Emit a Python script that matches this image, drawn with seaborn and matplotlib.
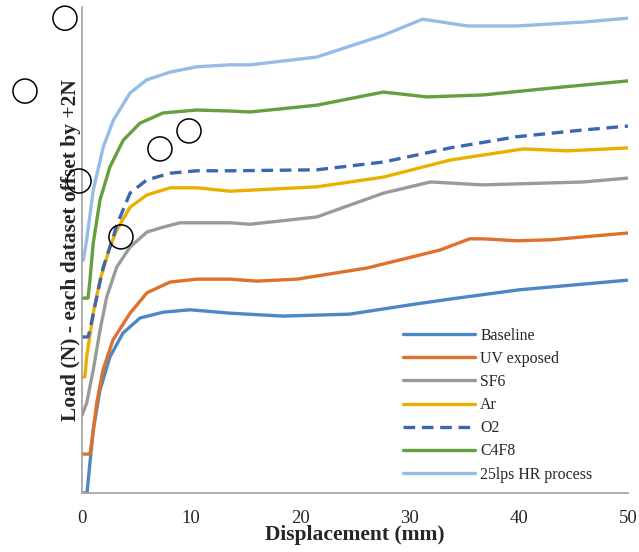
import numpy as np
import pandas as pd
import matplotlib
matplotlib.use("Agg")
import matplotlib.pyplot as plt
import seaborn as sns

sns.set_style("white")
plt.rcParams["font.family"] = ["Liberation Serif", "DejaVu Serif"]

# ========== Data ==========
baseline_x = [0, 0.46, 0.73, 1.03, 1.65, 2.56, 3.75, 5.31, 7.42, 9.89, 13.55, 18.4, 24.5, 30, 33.7, 40, 50]
baseline_y = [0, 0, 0.62, 1.30, 2.12, 2.80, 3.29, 3.60, 3.72, 3.77, 3.70, 3.64, 3.68, 3.87, 3.99, 4.18, 4.38]

uv_x = [0, 0.73, 0.89, 1.35, 1.92, 2.84, 4.40, 5.95, 8.06, 10.5, 13.55, 16.0, 19.7, 26.1, 32.8, 35.5, 36.7, 39.8, 42.9, 50]
uv_y = [0.80, 0.80, 1.03, 1.85, 2.53, 3.15, 3.70, 4.12, 4.34, 4.40, 4.40, 4.36, 4.40, 4.63, 5.00, 5.23, 5.23, 5.19, 5.21, 5.35]

sf6_x = [0, 0.43, 1.03, 1.65, 2.26, 3.18, 4.40, 5.95, 7.42, 8.97, 13.55, 15.4, 21.5, 27.6, 31.9, 36.7, 39.8, 45.9, 50]
sf6_y = [1.60, 1.85, 2.53, 3.35, 4.03, 4.65, 5.06, 5.37, 5.47, 5.56, 5.56, 5.53, 5.68, 6.17, 6.40, 6.34, 6.36, 6.40, 6.48]

ar_x = [0, 0.27, 0.43, 1.03, 1.65, 2.56, 3.18, 4.40, 5.92, 8.06, 10.5, 13.55, 21.5, 27.6, 33.7, 40.4, 44.4, 50]
ar_y = [2.39, 2.39, 2.80, 3.70, 4.38, 5.06, 5.41, 5.88, 6.13, 6.28, 6.28, 6.21, 6.30, 6.50, 6.85, 7.08, 7.04, 7.10]

o2_x = [0, 0.55, 0.73, 1.35, 1.95, 2.87, 3.18, 4.40, 5.92, 8.06, 10.5, 13.55, 21.5, 27.6, 33.7, 39.8, 45.9, 50]
o2_y = [3.21, 3.21, 3.35, 4.03, 4.65, 5.27, 5.51, 6.17, 6.44, 6.58, 6.63, 6.63, 6.65, 6.81, 7.10, 7.33, 7.47, 7.55]

c4f8_x = [0, 0.55, 0.73, 1.03, 1.65, 2.56, 3.78, 5.31, 7.42, 10.5, 13.55, 15.4, 21.5, 27.6, 31.6, 36.7, 42.9, 50]
c4f8_y = [4.01, 4.01, 4.38, 5.14, 6.03, 6.71, 7.26, 7.61, 7.82, 7.88, 7.86, 7.84, 7.98, 8.25, 8.15, 8.19, 8.33, 8.48]

hr_x = [0.12, 0.43, 1.03, 1.95, 2.87, 4.40, 5.92, 8.06, 10.5, 13.55, 15.4, 21.5, 27.6, 31.2, 35.3, 39.8, 45.9, 50]
hr_y = [4.79, 5.21, 6.23, 7.12, 7.67, 8.23, 8.50, 8.66, 8.77, 8.81, 8.81, 8.97, 9.42, 9.75, 9.61, 9.61, 9.69, 9.77]

# hollow circles scattered over the figure
circle_x = [-1.56, -5.22, 9.80, 7.14, -0.27, 3.57]
circle_y = [9.77, 8.27, 7.45, 7.08, 6.42, 5.27]

series = [
    ("Baseline", baseline_x, baseline_y, "#4d88c4", "-"),
    ("UV exposed", uv_x, uv_y, "#e0702e", "-"),
    ("SF6", sf6_x, sf6_y, "#9a9a9a", "-"),
    ("Ar", ar_x, ar_y, "#eab000", "-"),
    ("O2", o2_x, o2_y, "#3c66b2", "--"),
    ("C4F8", c4f8_x, c4f8_y, "#64a03e", "-"),
    ("25lps HR process", hr_x, hr_y, "#96bce6", "-"),
]

# ========== Plot ==========
fig = plt.figure(figsize=(6.39, 5.52), dpi=100)
ax = fig.add_axes([0.1283, 0.1069, 0.8545, 0.8804])

for name, xs, ys, col, ls in series:
    df = pd.DataFrame({"x": xs, "y": ys})
    sns.lineplot(data=df, x="x", y="y", ax=ax, color=col, lw=2.4,
                 label=name, estimator=None, sort=False)
    if ls == "--":
        ax.lines[-1].set_dashes((3.5, 2.0))

ax.scatter(circle_x, circle_y, s=300, facecolors="none", edgecolors="black",
           linewidths=1.1, clip_on=False, zorder=5)

ax.set_xlim(0, 50)
ax.set_ylim(0, 10)
ax.set_xticks(range(0, 51, 10))
ax.set_yticks(range(0, 11, 2))
ax.set_yticklabels([])
ax.tick_params(axis="x", direction="out", length=5, width=1, color="#a0a0a0",
               labelsize=13.5, pad=7)
ax.tick_params(axis="y", direction="in", length=8, width=1, color="#a0a0a0")
for s in ["top", "right"]:
    ax.spines[s].set_visible(False)
for s in ["left", "bottom"]:
    ax.spines[s].set_color("#a0a0a0")
    ax.spines[s].set_linewidth(1.2)

ax.set_xlabel("Displacement (mm)", fontsize=15.5, fontweight="bold", labelpad=-1)
ax.set_ylabel("Load (N) - each dataset offset by +2N", fontsize=15.5,
              fontweight="bold", labelpad=-3)

handles, labels = ax.get_legend_handles_labels()
ax.legend(handles, labels, loc="upper left", bbox_to_anchor=(0.588, 0.340),
          frameon=False, fontsize=11.4, handlelength=4.55, labelspacing=0.45,
          handletextpad=0.32, borderpad=0, borderaxespad=0)

fig.savefig("out.png", dpi=100)
